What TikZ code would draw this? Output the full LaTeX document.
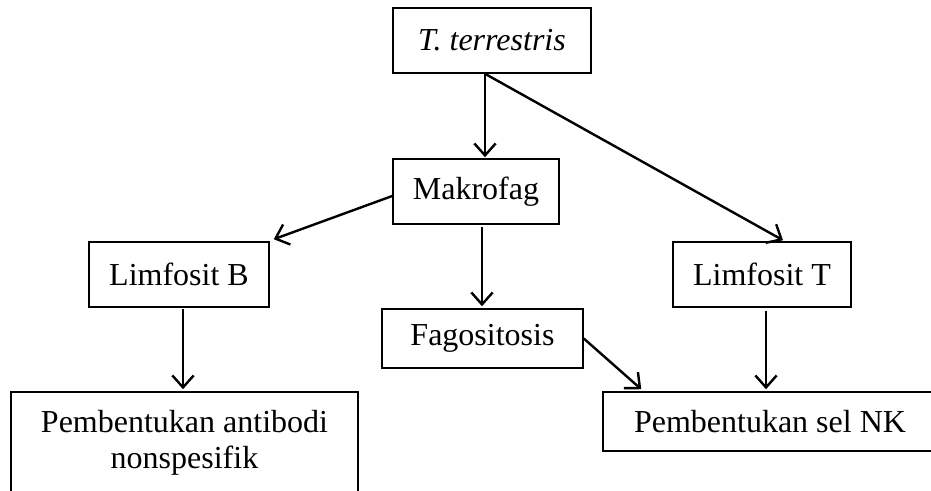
\documentclass[tikz,border=0pt]{standalone}
\usepackage{fontspec}
\setmainfont{Liberation Serif}
\usetikzlibrary{arrows.meta,calc}
\begin{document}
\begin{tikzpicture}[x=0.75pt,y=-0.75pt,
  box/.style={draw,line width=1.15pt,inner sep=0pt,align=center,
    font=\fontsize{24}{33}\selectfont},
  arr/.style={line width=1.8pt,-{Straight Barb[length=9pt,width=16pt,line width=1.8pt]}}]
\useasboundingbox (0,0) rectangle (931,490);
\clip (0,0) rectangle (931,490);
\node[box,minimum width=198*0.75pt,minimum height=65*0.75pt] (tt) at (492,40.5) {\itshape T. terrestris};
\node[box,minimum width=166*0.75pt,minimum height=65*0.75pt] (mak) at (476,191.5) {Makrofag};
\node[box,minimum width=180*0.75pt,minimum height=65*0.75pt] (lb) at (179,274.5) {Limfosit B};
\node[box,minimum width=178*0.75pt,minimum height=65*0.75pt] (lt) at (762,274.5) {Limfosit T};
\node[box,minimum width=201*0.75pt,minimum height=59*0.75pt] (fag) at (482.5,338.5) {Fagositosis};
\node[box,minimum width=334*0.75pt,minimum height=59*0.75pt] (nk) at (770,421.5) {Pembentukan sel NK};
\node[box,font=\fontsize{24}{27}\selectfont,minimum width=347*0.75pt,minimum height=102*0.75pt] (ab) at (184.5,443) {Pembentukan antibodi\\nonspesifik};
\draw[arr] ($(tt.south)+(-7,0)$) -- ($(mak.north)+(9,-1)$);
\draw[arr] ($(tt.south)+(-7,0)$) -- ($(lt.north)+(21,-1)$);
\draw[arr] ($(mak.west)+(0,4.5)$) -- ($(lb.north east)+(4,-2)$);
\draw[arr] ($(mak.south)+(6,2)$) -- ($(fag.north)+(-0.5,-2)$);
\draw[arr] ($(lb.south)+(4,1)$) -- ($(ab.north)+(-1.5,-2)$);
\draw[arr] ($(fag.east)+(0,0)$) -- ($(nk.north west)+(39,-2)$);
\draw[arr] ($(lt.south)+(4,3)$) -- ($(nk.north)+(-4,-2)$);
\end{tikzpicture}
\end{document}
